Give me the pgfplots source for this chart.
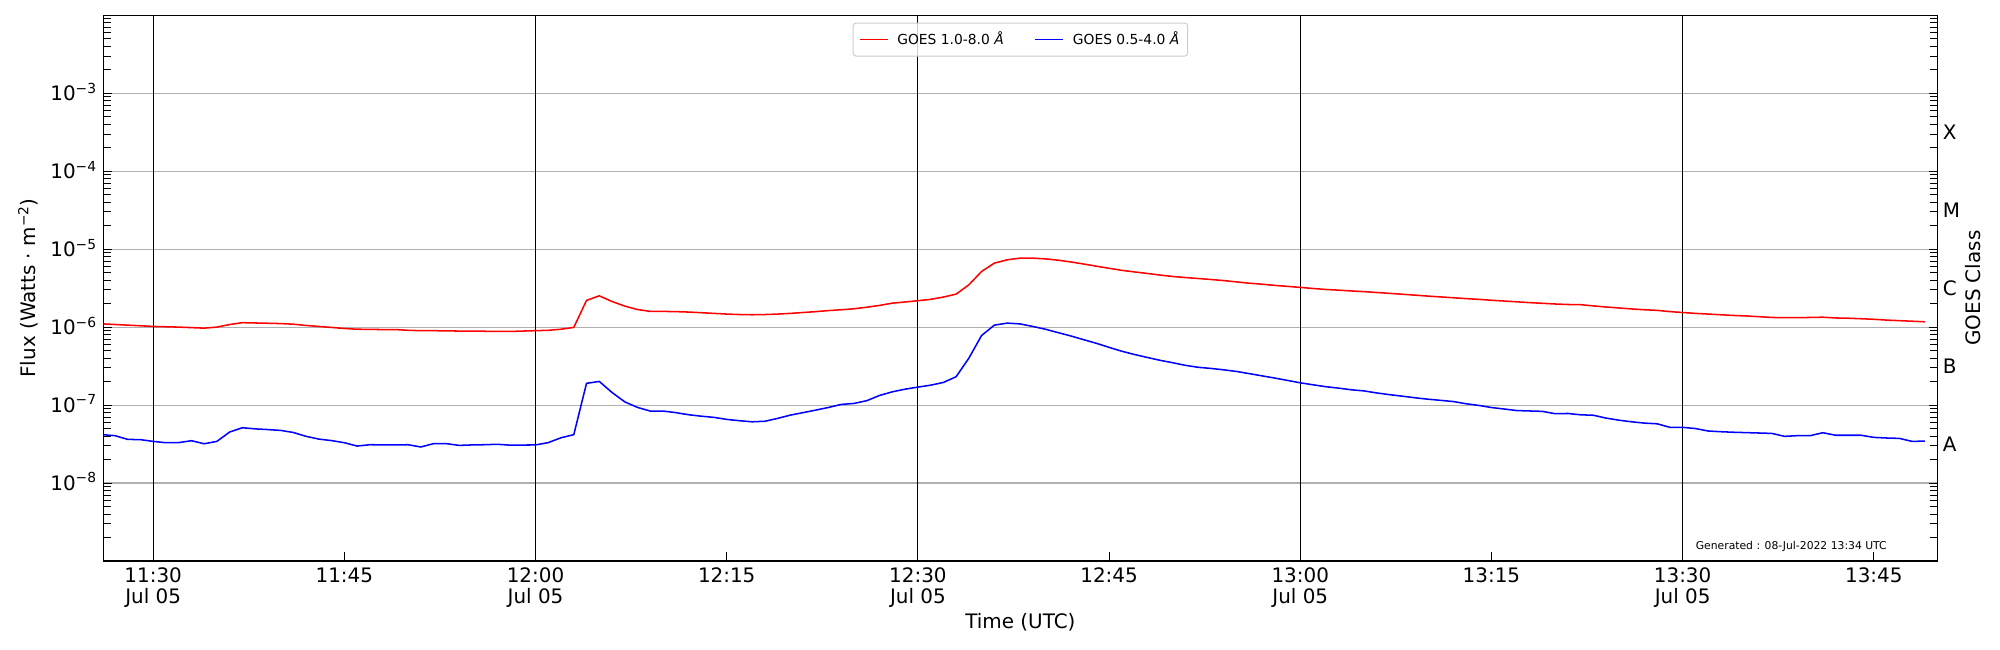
\documentclass[border=0pt]{standalone}
\usepackage{fontspec}
\setmainfont{DejaVu Sans}
\usepackage{pgfplots}
\pgfplotsset{compat=1.18}
\usepackage{pgfplotstable}
\definecolor{gridgray}{HTML}{B0B0B0}
\definecolor{legframe}{HTML}{CCCCCC}
\newcommand{\pw}[1]{10\raisebox{5.3bp}{\fontsize{10}{10}\selectfont −#1}}

\pgfplotstableread{
t f
26 1.10e-6
27 1.08e-6
28 1.06e-6
29 1.04e-6
30 1.02e-6
31 1.01e-6
32 1.00e-6
33 0.985e-6
34 0.97e-6
35 1.00e-6
36 1.08e-6
37 1.14e-6
38 1.13e-6
39 1.12e-6
40 1.11e-6
41 1.09e-6
42 1.05e-6
43 1.02e-6
44 0.99e-6
45 0.96e-6
46 0.94e-6
47 0.935e-6
48 0.93e-6
49 0.93e-6
50 0.91e-6
51 0.90e-6
52 0.90e-6
53 0.895e-6
54 0.89e-6
55 0.89e-6
56 0.885e-6
57 0.88e-6
58 0.88e-6
59 0.89e-6
60 0.90e-6
61 0.91e-6
62 0.94e-6
63 0.99e-6
64 2.20e-6
65 2.52e-6
66 2.13e-6
67 1.86e-6
68 1.68e-6
69 1.59e-6
70 1.59e-6
71 1.58e-6
72 1.56e-6
73 1.53e-6
74 1.50e-6
75 1.47e-6
76 1.45e-6
77 1.44e-6
78 1.45e-6
79 1.47e-6
80 1.50e-6
81 1.54e-6
82 1.58e-6
83 1.63e-6
84 1.67e-6
85 1.72e-6
86 1.80e-6
87 1.90e-6
88 2.03e-6
89 2.10e-6
90 2.18e-6
91 2.27e-6
92 2.43e-6
93 2.65e-6
94 3.49e-6
95 5.18e-6
96 6.62e-6
97 7.30e-6
98 7.67e-6
99 7.67e-6
100 7.50e-6
101 7.22e-6
102 6.85e-6
103 6.45e-6
104 6.05e-6
105 5.68e-6
106 5.35e-6
107 5.10e-6
108 4.88e-6
109 4.65e-6
110 4.46e-6
111 4.32e-6
112 4.20e-6
113 4.08e-6
114 3.95e-6
115 3.80e-6
116 3.66e-6
117 3.55e-6
118 3.43e-6
119 3.33e-6
120 3.23e-6
121 3.13e-6
122 3.04e-6
123 2.98e-6
124 2.91e-6
125 2.85e-6
126 2.78e-6
127 2.71e-6
128 2.64e-6
129 2.57e-6
130 2.50e-6
131 2.44e-6
132 2.38e-6
133 2.32e-6
134 2.27e-6
135 2.21e-6
136 2.16e-6
137 2.11e-6
138 2.06e-6
139 2.02e-6
140 1.98e-6
141 1.95e-6
142 1.94e-6
143 1.87e-6
144 1.81e-6
145 1.76e-6
146 1.71e-6
147 1.67e-6
148 1.64e-6
149 1.58e-6
150 1.54e-6
151 1.50e-6
152 1.47e-6
153 1.44e-6
154 1.41e-6
155 1.39e-6
156 1.36e-6
157 1.33e-6
158 1.32e-6
159 1.32e-6
160 1.33e-6
161 1.34e-6
162 1.31e-6
163 1.30e-6
164 1.28e-6
165 1.26e-6
166 1.23e-6
167 1.21e-6
168 1.19e-6
169 1.17e-6
}\longdata

\pgfplotstableread{
t f
26 4.17e-8
27 4.05e-8
28 3.63e-8
29 3.60e-8
30 3.42e-8
31 3.29e-8
32 3.30e-8
33 3.49e-8
34 3.19e-8
35 3.42e-8
36 4.51e-8
37 5.12e-8
38 4.95e-8
39 4.85e-8
40 4.73e-8
41 4.45e-8
42 3.97e-8
43 3.66e-8
44 3.50e-8
45 3.29e-8
46 2.98e-8
47 3.10e-8
48 3.09e-8
49 3.08e-8
50 3.10e-8
51 2.90e-8
52 3.20e-8
53 3.20e-8
54 3.04e-8
55 3.08e-8
56 3.10e-8
57 3.14e-8
58 3.06e-8
59 3.07e-8
60 3.08e-8
61 3.30e-8
62 3.81e-8
63 4.17e-8
64 1.90e-7
65 2.01e-7
66 1.45e-7
67 1.10e-7
68 9.33e-8
69 8.38e-8
70 8.38e-8
71 8.00e-8
72 7.52e-8
73 7.20e-8
74 6.95e-8
75 6.55e-8
76 6.30e-8
77 6.10e-8
78 6.20e-8
79 6.75e-8
80 7.44e-8
81 8.00e-8
82 8.63e-8
83 9.33e-8
84 1.02e-7
85 1.05e-7
86 1.14e-7
87 1.33e-7
88 1.48e-7
89 1.60e-7
90 1.70e-7
91 1.80e-7
92 1.95e-7
93 2.31e-7
94 4.00e-7
95 7.82e-7
96 1.06e-6
97 1.125e-6
98 1.10e-6
99 1.02e-6
100 0.94e-6
101 0.85e-6
102 0.77e-6
103 0.69e-6
104 0.62e-6
105 0.55e-6
106 0.49e-6
107 0.445e-6
108 0.408e-6
109 0.375e-6
110 0.349e-6
111 0.323e-6
112 0.305e-6
113 0.295e-6
114 0.283e-6
115 0.270e-6
116 0.253e-6
117 0.237e-6
118 0.222e-6
119 0.207e-6
120 0.193e-6
121 0.182e-6
122 0.172e-6
123 0.165e-6
124 0.157e-6
125 0.152e-6
126 0.143e-6
127 0.136e-6
128 0.130e-6
129 0.124e-6
130 0.119e-6
131 0.115e-6
132 0.111e-6
133 0.104e-6
134 0.099e-6
135 0.093e-6
136 0.089e-6
137 0.085e-6
138 0.084e-6
139 0.083e-6
140 0.0775e-6
141 0.078e-6
142 0.075e-6
143 0.074e-6
144 0.068e-6
145 0.064e-6
146 0.061e-6
147 0.0587e-6
148 0.0575e-6
149 0.0518e-6
150 0.0518e-6
151 0.050e-6
152 0.0465e-6
153 0.0455e-6
154 0.0448e-6
155 0.0443e-6
156 0.0438e-6
157 0.0433e-6
158 0.0397e-6
159 0.0405e-6
160 0.0405e-6
161 0.0442e-6
162 0.041e-6
163 0.041e-6
164 0.041e-6
165 0.0385e-6
166 0.0378e-6
167 0.0374e-6
168 0.0342e-6
169 0.0345e-6
}\shortdata

\begin{document}
\begin{tikzpicture}
\useasboundingbox (0,0) rectangle (1440bp,468bp);
\begin{axis}[
  at={(74.4bp,64.1bp)}, anchor=south west,
  scale only axis, width=1320.6bp, height=392.9bp,
  xmin=26.09, xmax=170,
  ymode=log, ymin=1e-9, ymax=1e-2,
  axis line style={line width=1bp},
  tick align=inside,
  xtick pos=left,
  ytick pos=both, yticklabel pos=left,
  xtick={30,45,60,75,90,105,120,135,150,165},
  xticklabels={{11:30\\Jul 05},11:45,{12:00\\Jul 05},12:15,{12:30\\Jul 05},12:45,{13:00\\Jul 05},13:15,{13:30\\Jul 05},13:45},
  xticklabel style={font=\fontsize{14.4}{15.1}\selectfont, align=center, inner sep=0pt, anchor=north, yshift=-4.5bp},
  ytick={1e-8,1e-7,1e-6,1e-5,1e-4,1e-3},
  yticklabels={\pw{8},\pw{7},\pw{6},\pw{5},\pw{4},\pw{3}},
  minor ytick={2e-9,3e-9,4e-9,5e-9,6e-9,7e-9,8e-9,9e-9,
               2e-8,3e-8,4e-8,5e-8,6e-8,7e-8,8e-8,9e-8,
               2e-7,3e-7,4e-7,5e-7,6e-7,7e-7,8e-7,9e-7,
               2e-6,3e-6,4e-6,5e-6,6e-6,7e-6,8e-6,9e-6,
               2e-5,3e-5,4e-5,5e-5,6e-5,7e-5,8e-5,9e-5,
               2e-4,3e-4,4e-4,5e-4,6e-4,7e-4,8e-4,9e-4,
               2e-3,3e-3,4e-3,5e-3,6e-3,7e-3,8e-3,9e-3},
  yticklabel style={font=\fontsize{14.4}{16}\selectfont, inner sep=0pt, anchor=base east, xshift=-5bp, yshift=-5.25pt},
  major tick length=6.5bp, minor tick length=5.5bp,
  every tick/.style={black, line width=0.7bp},
  ymajorgrids, major grid style={gridgray, line width=0.8bp},
  xlabel={Time (UTC)},
  xlabel style={font=\fontsize{14.4}{16}\selectfont, at={(axis description cs:0.5,0)}, anchor=north, inner sep=0pt, yshift=-37.8bp},
  ylabel={Flux (Watts · m\raisebox{5.3bp}{\fontsize{10}{10}\selectfont −2})},
  ylabel style={font=\fontsize{14.4}{16}\selectfont, at={(axis description cs:0,0.5)}, anchor=base, inner sep=0pt, rotate=0, yshift=48.7bp},
  legend columns=2,
  legend cell align=left,
  legend image code/.code={\draw[#1, line width=1.1bp] (0bp,0bp) -- (20.2bp,0bp);},
  legend style={at={(0.5,1)}, anchor=north, yshift=-5.3bp,
    font=\fontsize{10}{12}\selectfont,
    draw=legframe, line width=0.7bp, rounded corners=2bp, fill=white, fill opacity=0.8, text opacity=1,
    inner xsep=4bp, inner ysep=4.5bp,
    /tikz/every odd column/.append style={column sep=4.5bp},
    /tikz/every even column/.append style={column sep=20bp}},
]
\addplot[black, line width=0.8bp, forget plot] coordinates {(30,1e-9) (30,1e-2)};
\addplot[black, line width=0.8bp, forget plot] coordinates {(60,1e-9) (60,1e-2)};
\addplot[black, line width=0.8bp, forget plot] coordinates {(90,1e-9) (90,1e-2)};
\addplot[black, line width=0.8bp, forget plot] coordinates {(120,1e-9) (120,1e-2)};
\addplot[black, line width=0.8bp, forget plot] coordinates {(150,1e-9) (150,1e-2)};
\addplot[red, line width=1.1bp] table[x=t, y=f] {\longdata};
\addlegendentry{GOES 1.0-8.0 {\itshape Å}}
\addplot[blue, line width=1.1bp] table[x=t, y=f] {\shortdata};
\addlegendentry{GOES 0.5-4.0 {\itshape Å}}
\node[anchor=base east, inner sep=0pt, font=\fontsize{7.8}{9}\selectfont] at (rel axis cs:1,0) [xshift=-36.4bp, yshift=8bp] {Generated : 08-Jul-2022 13:34 UTC};
\end{axis}
\begin{axis}[
  at={(74.4bp,64.1bp)}, anchor=south west,
  scale only axis, width=1320.6bp, height=392.9bp,
  xmin=26.09, xmax=170,
  ymode=log, ymin=1e-9, ymax=1e-2,
  axis x line=none,
  axis y line*=right,
  axis line style={line width=1bp},
  ytick={3.1623e-8,3.1623e-7,3.1623e-6,3.1623e-5,3.1623e-4},
  yticklabels={A,B,C,M,X},
  major tick length=0pt,
  minor tick style={draw=none},
  yticklabel style={font=\fontsize{14.4}{16}\selectfont, inner sep=0pt, anchor=base west, xshift=3.7bp, yshift=-5.25pt},
  ylabel={GOES Class},
  ylabel style={font=\fontsize{14.4}{16}\selectfont, at={(axis description cs:1,0.5)}, anchor=base, inner sep=0pt, yshift=-30.6bp},
]
\addplot[draw=none, forget plot] coordinates {(30,1e-6)};
\end{axis}
\end{tikzpicture}
\end{document}
